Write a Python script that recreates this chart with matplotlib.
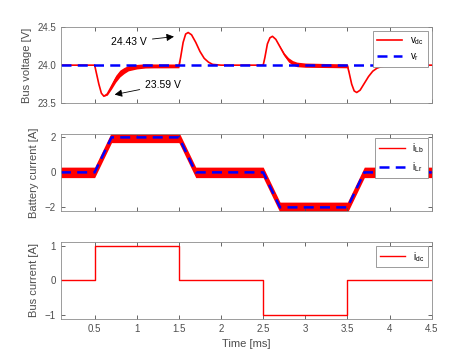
import matplotlib
matplotlib.use("Agg")
import matplotlib.pyplot as plt
import numpy as np

plt.rcParams["font.family"] = ["Liberation Sans", "DejaVu Sans"]
plt.rcParams["mathtext.default"] = "regular"

# bus voltage (mean trace) and ripple half-width
vdc_t = [0.1, 0.5, 0.52, 0.55, 0.58, 0.61, 0.65, 0.7, 0.75, 0.8, 0.85, 0.9, 1.0, 1.1, 1.2, 1.5,
         1.52, 1.55, 1.58, 1.61, 1.65, 1.7, 1.75, 1.8, 1.85, 1.9, 2.0, 2.5,
         2.52, 2.55, 2.58, 2.61, 2.65, 2.7, 2.75, 2.8, 2.85, 2.9, 3.0, 3.5,
         3.52, 3.55, 3.58, 3.61, 3.65, 3.7, 3.75, 3.8, 3.85, 3.9, 4.0, 4.5]
vdc = [24.0, 24.0, 23.9, 23.75, 23.63, 23.59, 23.62, 23.72, 23.82, 23.89, 23.93, 23.96, 23.98, 23.99, 23.99, 23.99,
       24.1, 24.3, 24.41, 24.43, 24.40, 24.3, 24.18, 24.09, 24.04, 24.01, 24.0, 24.0,
       24.1, 24.28, 24.36, 24.38, 24.34, 24.24, 24.14, 24.07, 24.03, 24.01, 24.0, 23.99,
       23.9, 23.75, 23.66, 23.64, 23.67, 23.76, 23.85, 23.92, 23.96, 23.98, 24.0, 24.0]
vdc_ripple = [0, 0, 0, 0, 0, 0, 0.015, 0.035, 0.045, 0.045, 0.04, 0.035, 0.03, 0.028, 0.026, 0.025,
              0, 0, 0, 0, 0, 0, 0, 0, 0, 0, 0, 0,
              0, 0, 0, 0, 0, 0.01, 0.02, 0.028, 0.03, 0.03, 0.028, 0.025,
              0, 0, 0, 0, 0, 0, 0, 0, 0, 0, 0, 0]
v_ref = 24.0

# battery current reference (trapezoid) and inductor ripple
i_t = [0.1, 0.5, 0.7, 1.5, 1.7, 2.5, 2.7, 3.5, 3.7, 4.5]
i_lr = [0, 0, 2, 2, 0, 0, -2, -2, 0, 0]
i_ripple = 0.3

# bus current steps
idc_t = [0.1, 0.5, 0.5, 1.5, 1.5, 2.5, 2.5, 3.5, 3.5, 4.5]
idc = [0, 0, 1, 1, 0, 0, -1, -1, 0, 0]

xticks = [0.5, 1, 1.5, 2, 2.5, 3, 3.5, 4, 4.5]
grey = "#4d4d4d"

fig = plt.figure(figsize=(4.76, 3.58), dpi=100)
ax1 = fig.add_axes([0.128, 0.712, 0.779, 0.212])
ax2 = fig.add_axes([0.128, 0.411, 0.779, 0.215])
ax3 = fig.add_axes([0.128, 0.109, 0.779, 0.215])

# voltage
lo = np.array(vdc) - np.array(vdc_ripple)
hi = np.array(vdc) + np.array(vdc_ripple)
ax1.fill_between(vdc_t, lo, hi, color="red", lw=0)
ax1.plot(vdc_t, vdc, color="red", lw=1.2, label=r"v$_{dc}$")
ax1.plot([0.1, 4.5], [v_ref, v_ref], color="blue", lw=1.8, ls=(0, (4, 2.5)), label=r"v$_{r}$")
ax1.set_ylim(23.5, 24.5)
ax1.set_yticks([23.5, 24, 24.5])
ax1.set_ylabel("Bus voltage [V]", fontsize=8, color=grey)
ax1.annotate("24.43 V", xy=(1.474, 24.38), xytext=(1.12, 24.31), fontsize=7.5, ha="right", va="center",
             arrowprops=dict(arrowstyle="-|>", color="black", lw=0.6, mutation_scale=11))
ax1.annotate("23.59 V", xy=(0.705, 23.605), xytext=(1.1, 23.74), fontsize=7.5, ha="left", va="center",
             arrowprops=dict(arrowstyle="-|>", color="black", lw=0.6, mutation_scale=11))

# battery current
ax2.fill_between(i_t, np.array(i_lr) - i_ripple, np.array(i_lr) + i_ripple, color="red", lw=0)
ax2.plot(i_t, i_lr, color="red", lw=1.0, label=r"i$_{Lb}$")
ax2.plot(i_t, i_lr, color="blue", lw=1.8, ls=(0, (4, 2.5)), label=r"i$_{Lr}$")
ax2.set_ylim(-2.2, 2.2)
ax2.set_yticks([-2, 0, 2])
ax2.set_ylabel("Battery current [A]", fontsize=8, color=grey)

# bus current
ax3.plot(idc_t, idc, color="red", lw=1.0, label=r"i$_{dc}$")
ax3.set_ylim(-1.1, 1.1)
ax3.set_yticks([-1, 0, 1])
ax3.set_ylabel("Bus current [A]", fontsize=8, color=grey)
ax3.set_xlabel("Time [ms]", fontsize=8, color=grey)

for ax in (ax1, ax2, ax3):
    ax.set_xlim(0.1, 4.5)
    ax.set_xticks(xticks)
    ax.tick_params(direction="in", top=True, right=True, labelsize=7, colors=grey, length=3, width=0.6)
    for s in ax.spines.values():
        s.set_color("#8c8c8c")
        s.set_linewidth(0.6)
    leg = ax.legend(loc="upper right", fontsize=7, frameon=True, fancybox=False, framealpha=1,
                    handlelength=2.6, borderaxespad=0.4, edgecolor="#8c8c8c")
    leg.get_frame().set_linewidth(0.6)
ax1.set_xticklabels([])
ax2.set_xticklabels([])
ax3.set_xticklabels(["0.5", "1", "1.5", "2", "2.5", "3", "3.5", "4", "4.5"])

fig.savefig("out.png", dpi=100)
